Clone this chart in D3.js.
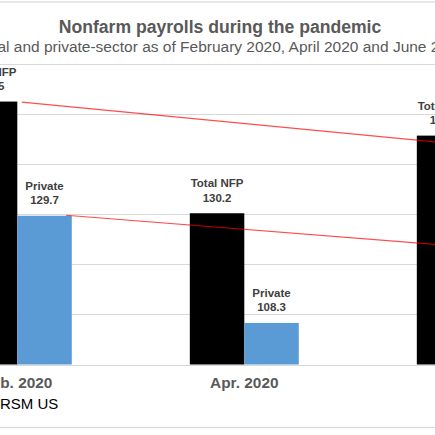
<!DOCTYPE html>
<html>
<head>
<meta charset="utf-8">
<script src="https://cdn.jsdelivr.net/npm/d3@7"></script>
<style>
  html, body { margin: 0; padding: 0; background: #fff; }
  svg { display: block; font-family: "Liberation Sans", Arial, sans-serif; }
</style>
</head>
<body>
<div id="chart"></div>
<script>
'use strict';

//  Data

var categories = ["Feb. 2020", "Apr. 2020", "Jun. 2020"];
var seriesNames = ["Total NFP", "Private"];
var totalNfp = [152.5, 130.2, 145.7];
var privateJobs = [129.7, 108.3, 123.0];
var yTicks = [100, 110, 120, 130, 140, 150, 160];
// red guide lines: [category index, value]
var upperGuide = [[0.02, 152.4], [2.2, 142.9]];
var lowerGuide = [[0.215, 129.8], [2.2, 122.7]];

var title = "Nonfarm payrolls during the pandemic";
var subtitle = "Total and private-sector as of February 2020, April 2020 and June 2020";
var source = "Source: RSM US";

//  Chart

var width = 435, height = 435;
var colors = { "Total NFP": "#000000", "Private": "#5b9bd5" };

var svg = d3.select("#chart")
	.append("svg")
	.attr("width", width)
	.attr("height", height);

// chart border
svg.append("rect")
	.attr("x", -120).attr("y", 2)
	.attr("width", 700).attr("height", 425.5)
	.style("fill", "none")
	.style("stroke", "#d9d9d9")
	.style("stroke-width", 1.3);

var x = d3.scaleBand()
	.domain(categories)
	.range([-96.2, 584.8])
	.paddingInner(0.52)
	.paddingOuter(0.26);

var xSeries = d3.scaleBand()
	.domain(seriesNames)
	.range([0, x.bandwidth()]);

var y = d3.scaleLinear()
	.domain([100, 160])
	.range([364.5, 64]);

var xPos = d3.scaleLinear()
	.domain([0, 2])
	.range([x(categories[0]) + x.bandwidth() / 2, x(categories[2]) + x.bandwidth() / 2]);

// gridlines
svg.append("g")
	.selectAll("line")
	.data(yTicks)
	.enter().append("line")
		.attr("x1", -96).attr("x2", 585)
		.attr("y1", function(d) { return Math.round(y(d)) + 0.5; })
		.attr("y2", function(d) { return Math.round(y(d)) + 0.5; })
		.style("stroke", "#d9d9d9")
		.style("stroke-width", 1.2);

var rows = categories.map(function(c, i) {
	return { cat: c, values: [
		{ name: "Total NFP", value: totalNfp[i] },
		{ name: "Private", value: privateJobs[i] }
	] };
});

var groups = svg.append("g")
	.selectAll("g")
	.data(rows)
	.enter().append("g")
		.attr("transform", function(d) { return "translate(" + x(d.cat) + ",0)"; });

groups.selectAll("rect")
	.data(function(d) { return d.values; })
	.enter().append("rect")
		.attr("x", function(d) { return xSeries(d.name); })
		.attr("y", function(d) { return y(d.value); })
		.attr("width", xSeries.bandwidth())
		.attr("height", function(d) { return y(100) - y(d.value); })
		.style("fill", function(d) { return colors[d.name]; });

// data labels
var labels = groups.selectAll("text")
	.data(function(d) { return d.values; })
	.enter().append("text")
		.attr("text-anchor", "middle")
		.style("font-size", "11.5px")
		.style("font-weight", "bold")
		.style("fill", "#404040");

labels.append("tspan")
	.attr("x", function(d) { return xSeries(d.name) + xSeries.bandwidth() / 2; })
	.attr("y", function(d) { return y(d.value) - 26; })
	.text(function(d) { return d.name; });

labels.append("tspan")
	.attr("x", function(d) { return xSeries(d.name) + xSeries.bandwidth() / 2; })
	.attr("y", function(d) { return y(d.value) - 11.5; })
	.text(function(d) { return d.value.toFixed(1); });

// red guide lines
var guide = d3.line()
	.x(function(d) { return xPos(d[0]); })
	.y(function(d) { return y(d[1]); });

svg.append("g")
	.selectAll("path")
	.data([upperGuide, lowerGuide])
	.enter().append("path")
		.attr("d", guide)
		.style("fill", "none")
		.style("stroke", "#ff0000")
		.style("stroke-opacity", 0.7)
		.style("stroke-width", 1.2);

// category labels
svg.append("g")
	.selectAll("text")
	.data(categories)
	.enter().append("text")
		.attr("x", function(d) { return x(d) + x.bandwidth() / 2; })
		.attr("y", 387.5)
		.attr("text-anchor", "middle")
		.style("font-size", "15.4px")
		.style("font-weight", "bold")
		.style("fill", "#595959")
		.text(function(d) { return d; });

// titles
svg.append("text")
	.attr("x", 220).attr("y", 33.3)
	.attr("text-anchor", "middle")
	.style("font-size", "17.6px")
	.style("font-weight", "bold")
	.style("fill", "#595959")
	.text(title);

svg.append("text")
	.attr("x", 221).attr("y", 51.5)
	.attr("text-anchor", "middle")
	.style("font-size", "15.5px")
	.style("fill", "#595959")
	.text(subtitle);

svg.append("text")
	.attr("x", 58.3).attr("y", 408.5)
	.attr("text-anchor", "end")
	.style("font-size", "15px")
	.style("fill", "#000")
	.text(source);
</script>
</body>
</html>
